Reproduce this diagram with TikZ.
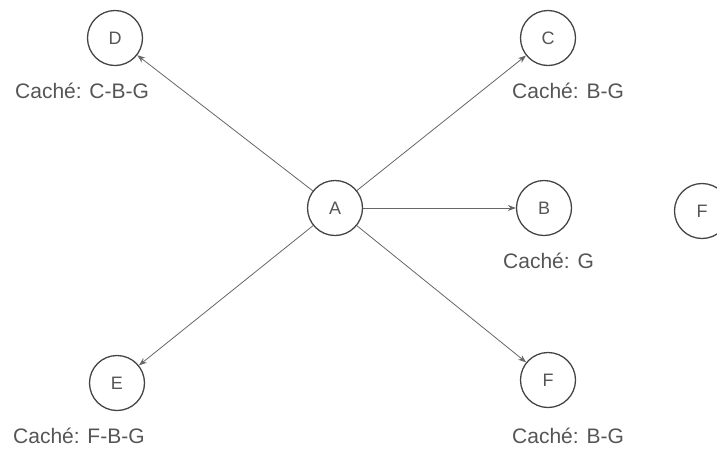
\documentclass[tikz,border=0pt]{standalone}
\usepackage{fontspec}
\setmainfont{Liberation Sans}
\usetikzlibrary{arrows.meta}
\definecolor{stroke}{HTML}{444444}
\definecolor{txt}{HTML}{555555}
\definecolor{edge}{HTML}{666666}
\begin{document}
\begin{tikzpicture}[x=1pt,y=-1pt,
  vtx/.style={circle,draw=stroke,line width=1.3pt,minimum size=55pt,inner sep=0pt,font=\fontsize{18}{18}\selectfont,text=txt},
  cache/.style={font=\fontsize{21}{21}\selectfont,text=txt,inner sep=0pt,anchor=base west},
  link/.style={draw=edge,line width=0.8pt,-{Stealth[length=8pt,width=6pt]}}]
\useasboundingbox (0,0) rectangle (717,451);
\clip (0,0) rectangle (717,451);
\node[vtx] (A) at (335,208) {A};
\node[vtx] (D) at (115,38) {D};
\node[vtx] (C) at (548,38) {C};
\node[vtx] (B) at (544,208) {B};
\node[vtx] (F2) at (702,211) {F};
\node[vtx] (E) at (117,383) {E};
\node[vtx] (F) at (548,380) {F};
\node[cache] (lD) at (15,98) {Caché: C-B-G};
\node[cache] (lC) at (512,98) {Caché: B-G};
\node[cache] (lB) at (503,268) {Caché: G};
\node[cache] (lE) at (13,443) {Caché: F-B-G};
\node[cache] (lF) at (512,443) {Caché: B-G};
\draw[link] (A) -- (D);
\draw[link] (A) -- (C);
\draw[link] (A) -- (B);
\draw[link] (A) -- (E);
\draw[link] (A) -- (F);
\end{tikzpicture}
\end{document}
